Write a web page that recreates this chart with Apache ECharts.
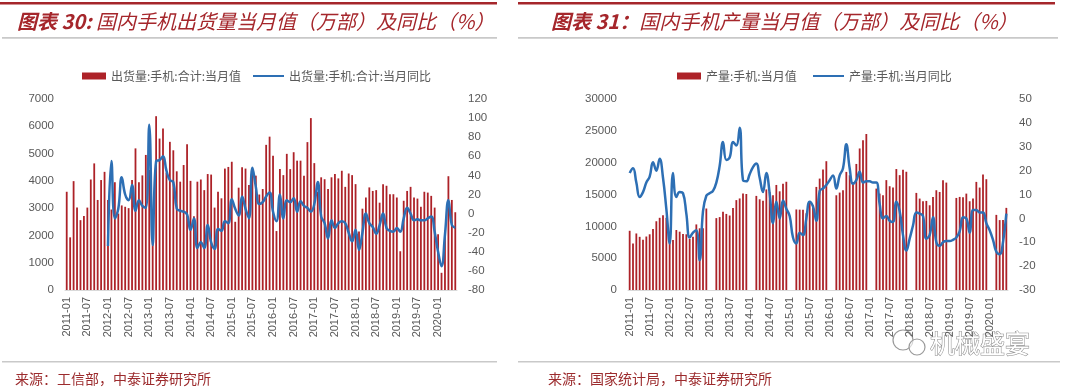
<!DOCTYPE html>
<html><head><meta charset="utf-8">
<script src="https://cdn.jsdelivr.net/npm/echarts@6/dist/echarts.min.js"></script>
<style>html,body{margin:0;padding:0;background:#fff}#c{width:1080px;height:389px}</style>
</head><body><div id="c"></div>
<script>
// Month categories 2011-01 .. 2020-06
const months = [];
for (let y = 2011; y <= 2020; y++) {
  for (let m = 1; m <= 12; m++) {
    if (y === 2020 && m > 6) break;
    months.push(y + '-' + String(m).padStart(2, '0'));
  }
}

// Chart 30: domestic phone shipments (万部) and YoY (%)
const shipments = [
  3600, 1930, 3990, 3020, 2560, 2710, 3020, 4050, 4640, 3300, 4030, 4330,
  3300, 2950, 3950, 2800, 3100, 3050, 3000, 4030, 5190, 3950, 4200, 4950,
  4400, 2600, 6370, 5550, 5920, 4300, 5430, 5120, 4350, 3970, 4580, 5340,
  4000, 2700, 3970, 4050, 3660, 4250, 4230, 3020, 3600, 3360, 4450, 4510,
  4700, 2500, 3750, 4500, 4450, 3850, 4450, 4190, 3500, 3700, 5320, 5620,
  4920, 2160, 4430, 4210, 4990, 4430, 5050, 4740, 4740, 4190, 5420, 6300,
  4650, 3600, 4130, 4060, 3700, 4130, 4250, 4090, 4370, 3780, 4270, 4210,
  3880, 2140, 2980, 3390, 3760, 3630, 3660, 3200, 3880, 3820, 3510, 3510,
  3390, 1420, 3270, 3630, 3780, 3390, 3350, 3050, 3600, 3570, 3450, 3020,
  2040, 630, 2180, 4170, 3300, 2850
];
const shipmentsYoY = [
  null, null, null, null, null, null, null, null, null, null, null, null,
  -34, 55, -5, 5, 38, 20, 14, 30, 3, 14, 8, 6,
  93, -33, 55, 56, 60, 45, 35, 33, 5, 3, 2, -1,
  -17, -5, -36, -30, -36, -12, -30, -37, -16, -18, -8, -10,
  15, 5, -2, 18, 5, -5, 48, 28, 10, 12, 18, 22,
  2, -8, 20, -5, 14, 12, 16, 2, 13, 8, 6, 2,
  10, 33, -3, -10, -26, -7, -15, -10, -8, -10, -20, -29,
  -17, -38, -20, 0, -10, -14, -21, -12, 0, -15, -18, -19,
  -15, -19, -5, 6, 0, -7, -6, -7, -7, -5, -3, -19,
  -40, -55, -22, 14, -12, -15
];

// Chart 31: phone production (万部) and YoY (%)
const production = [
  9300, 7300, 8880, 8350, 7900, 8400, 8750, 9600, 10800, 11340, 11760, 11340,
  8120, 7850, 9420, 9160, 8800, 8750, 8010, 8380, 10300, 9690, 9690, 12800,
  null, null, 11290, 11450, 12280, 11950, 11700, 12860, 14120, 14380, 15160, 15080,
  null, null, 14780, 14250, 14000, 15800, 15400, 14900, 16500, 15500, 16700, 17000,
  null, null, 12650, 12620, 12600, 12050, 13700, 13300, 16190, 17500, 18920, 20230,
  null, null, 14880, 15300, 15650, 18550, 18030, 16980, 19800, 22230, 23540, 24500,
  null, null, 15930, 15140, 14880, 17260, 16300, 16090, 19000, 18040, 18880, 18570,
  null, null, 15250, 14360, 13940, 13990, 13310, 14620, 15670, 15400, 17240, 16870,
  null, null, 14460, 14620, 14570, 15140, 13940, 14360, 16980, 16090, 18130, 17400,
  null, null, 11800, 10980, 10980, 12900
];
const productionYoY = [
  19, 21, 15, 9, 11, 15, 17.5, 23.5, 20, 25, 17, 4,
  -10.5, 19, 9, 11, 10.5, 2, -8, -6, -5, -17.5, 3, 9.5,
  10.5, 11.5, 15, 22, 32, 24.5, 25.5, 32, 30.5, 38, 16, 15.5,
  18.5, 21.5, 23, 17, 11, 19, 10.5, -2, 7, 0, 7.5, 4,
  1, -8, -10.5, -6, -7, 0, 7, 5, -1, 11.5, 12.5, 14,
  16, 18, 12.5, 18, 21, 31, 21, 14.5, 16, 19.5, 15, 15.5,
  15.5, 15, 15, 6, 0, 1, -1, -1.5, 7, 3, -7, -13.5,
  -8.5, -3, 2.5, 2, 1, -8.5, -7, 0.5, -10, -11.5, -10, -9.5,
  -9.5, -9, -8, -5.5, 0.5, 0, -6, 3.5, 3.5, 2.5, 2.5, -2,
  -5, -9, -14, -15, -10, 2
];

const names = ['出货量:手机:合计:当月值', '出货量:手机:合计:当月同比', '产量:手机:当月值', '产量:手机:当月同比'];
const titles = ['图表 30:', ' 国内手机出货量当月值（万部）及同比（%）', '图表 31：', '国内手机产量当月值（万部）及同比（%）'];
const sources = ['来源：工信部，中泰证券研究所', '来源：国家统计局，中泰证券研究所'];

const RED = '#a5262b', BAR = '#ad2228', BLUE = '#2d6fb4', GREY = '#595959';
const numFont = 'Liberation Sans';
const cjk = 'Noto Sans CJK SC';

function xAxis(gi) {
  return {
    type: 'category', gridIndex: gi, data: months, boundaryGap: true,
    axisLine: { lineStyle: { color: '#d9d9d9' } }, axisTick: { show: false },
    axisLabel: { interval: 5, rotate: 90, fontSize: 11, color: GREY, fontFamily: numFont, margin: 7 }
  };
}
function yAxis(gi, min, max, step, pos) {
  return {
    type: 'value', gridIndex: gi, min: min, max: max, interval: step, position: pos,
    splitLine: { show: false }, axisLine: { show: false }, axisTick: { show: false },
    axisLabel: { fontSize: 11.5, color: GREY, fontFamily: numFont, margin: 11, formatter: v => String(v) }
  };
}
function legend(name, left, isLine) {
  return {
    data: [name], left: left, top: 65,
    itemWidth: isLine ? 31 : 24, itemHeight: isLine ? 2 : 7, icon: 'rect',
    textStyle: { fontSize: 12, color: GREY, fontFamily: cjk }
  };
}

const chart = echarts.init(document.getElementById('c'), null, { renderer: 'canvas' });
chart.setOption({
  animation: false,
  backgroundColor: '#fff',
  grid: [
    { left: 65, top: 99, width: 392, height: 191 },
    { left: 628, top: 99, width: 380, height: 191 }
  ],
  legend: [
    legend(names[0], 77, false),
    legend(names[1], 248, true),
    legend(names[2], 672, false),
    legend(names[3], 808, true)
  ],
  xAxis: [xAxis(0), xAxis(1)],
  yAxis: [
    yAxis(0, 0, 7000, 1000, 'left'),
    yAxis(0, -80, 120, 20, 'right'),
    yAxis(1, 0, 30000, 5000, 'left'),
    yAxis(1, -30, 50, 10, 'right')
  ],
  series: [
    { type: 'bar', name: names[0], xAxisIndex: 0, yAxisIndex: 0, data: shipments, barWidth: 1.8,
      itemStyle: { color: BAR } },
    { type: 'line', name: names[1], xAxisIndex: 0, yAxisIndex: 1, data: shipmentsYoY, smooth: 0.45,
      symbol: 'none', lineStyle: { width: 2.5, color: BLUE }, itemStyle: { color: BLUE } },
    { type: 'bar', name: names[2], xAxisIndex: 1, yAxisIndex: 2, data: production, barWidth: 1.8,
      itemStyle: { color: BAR } },
    { type: 'line', name: names[3], xAxisIndex: 1, yAxisIndex: 3, data: productionYoY, smooth: 0.45,
      connectNulls: true, symbol: 'none', lineStyle: { width: 2.5, color: BLUE }, itemStyle: { color: BLUE } }
  ],
  graphic: [
    { type: 'rect', shape: { x: 0, y: 2, width: 497, height: 2.6 }, style: { fill: RED }, silent: true },
    { type: 'rect', shape: { x: 518, y: 2, width: 537, height: 2.6 }, style: { fill: RED }, silent: true },
    { type: 'rect', shape: { x: 2, y: 37, width: 495, height: 1.8 }, style: { fill: '#c9c9c9' }, silent: true },
    { type: 'rect', shape: { x: 518, y: 37, width: 540, height: 1.8 }, style: { fill: '#c9c9c9' }, silent: true },
    { type: 'rect', shape: { x: 2, y: 361, width: 495, height: 1.6 }, style: { fill: '#c9c9c9' }, silent: true },
    { type: 'rect', shape: { x: 518, y: 361, width: 542, height: 1.6 }, style: { fill: '#c9c9c9' }, silent: true },
    { type: 'text', x: 17, y: 21, silent: true,
      style: { text: '{b|' + titles[0] + '}' + titles[1], fontSize: 20, fontStyle: 'italic', fontFamily: cjk,
        fill: RED, verticalAlign: 'middle',
        rich: { b: { fontSize: 20, fontStyle: 'italic', fontWeight: 'bold', fontFamily: cjk, fill: RED } } } },
    { type: 'text', x: 551, y: 21, silent: true,
      style: { text: '{b|' + titles[2] + '}' + titles[3], fontSize: 20, fontStyle: 'italic', fontFamily: cjk,
        fill: RED, verticalAlign: 'middle',
        rich: { b: { fontSize: 20, fontStyle: 'italic', fontWeight: 'bold', fontFamily: cjk, fill: RED } } } },
    { type: 'text', x: 15, y: 379, silent: true,
      style: { text: sources[0], fontSize: 14, fontFamily: cjk, fill: '#9c2b2d', verticalAlign: 'middle' } },
    { type: 'text', x: 548, y: 379, silent: true,
      style: { text: sources[1], fontSize: 14, fontFamily: cjk, fill: '#9c2b2d', verticalAlign: 'middle' } },
    { type: 'circle', shape: { cx: 903, cy: 340, r: 10 }, style: { fill: 'rgba(255,255,255,0.6)', stroke: '#9a9a9a', lineWidth: 1.2 }, silent: true },
    { type: 'circle', shape: { cx: 917, cy: 347, r: 8 }, style: { fill: 'rgba(255,255,255,0.6)', stroke: '#9a9a9a', lineWidth: 1.2 }, silent: true },
    { type: 'text', x: 930, y: 343, silent: true,
      style: { text: '机械盛宴', fontSize: 25, fontFamily: cjk, fill: '#ffffff', stroke: '#8f8f8f', lineWidth: 1.1, verticalAlign: 'middle' } }
  ]
});
</script>
</body></html>
